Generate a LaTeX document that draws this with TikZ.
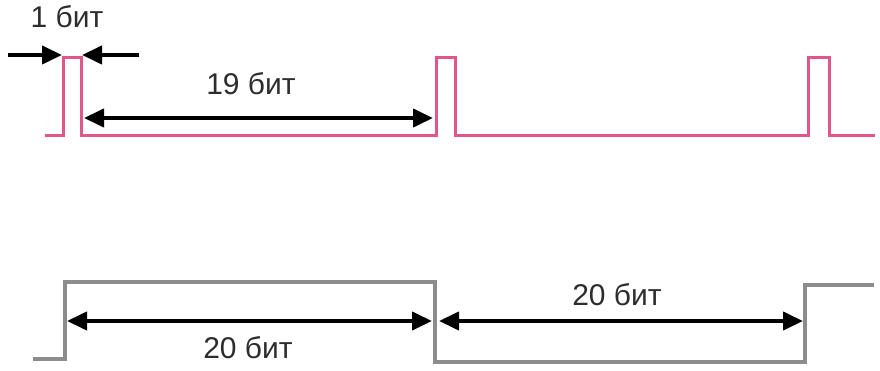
\documentclass[tikz,border=0pt]{standalone}
\usepackage{fontspec}
\setmainfont{Liberation Sans}
\usetikzlibrary{arrows.meta}
\definecolor{pulsepink}{RGB}{226,86,138}
\definecolor{clockgrey}{RGB}{140,140,140}
\definecolor{labelgrey}{RGB}{45,45,45}
\begin{document}
\begin{tikzpicture}[x=1pt,y=-1pt]
\tikzstyle{dim} = [line width=4pt,black,{Triangle[length=20pt,width=18pt]}-{Triangle[length=20pt,width=18pt]}]
\tikzstyle{tip} = [line width=4pt,black,-{Triangle[length=20pt,width=18pt]}]
\tikzstyle{bits} = [text=labelgrey,font=\fontsize{30}{36}\selectfont,inner sep=0pt]
\useasboundingbox (0,0) rectangle (880,371);

% pulse line
\draw[pulsepink,line width=3pt] (45,136) -- (63,136) -- (63,58) -- (81,58) -- (81,136)
  -- (436,136) -- (436,58) -- (455,58) -- (455,136)
  -- (808,136) -- (808,58) -- (829,58) -- (829,136) -- (875,136);

% square line
\draw[clockgrey,line width=3.5pt] (33,359) -- (65,359) -- (65,282) -- (435,282)
  -- (435,362) -- (805,362) -- (805,285) -- (874,285);

\coordinate (a1) at (8,55);
\coordinate (a2) at (62,55);
\coordinate (a3) at (139,55);
\coordinate (a4) at (82,55);
\node [bits] (n1) at (67,17) {1 бит};
\draw[tip] (a1) -- (a2);
\draw[tip] (a3) -- (a4);

\coordinate (b1) at (84,118);
\coordinate (b2) at (433,118);
\node [bits] (n19) at (251,84) {19 бит};
\draw[dim] (b1) -- (b2);

\coordinate (c1) at (67,321);
\coordinate (c2) at (432,321);
\coordinate (c3) at (439,321);
\coordinate (c4) at (803,321);
\node [bits] (n20a) at (248,348) {20 бит};
\node [bits] (n20b) at (617,295) {20 бит};
\draw[dim] (c1) -- (c2);
\draw[dim] (c3) -- (c4);
\end{tikzpicture}
\end{document}
